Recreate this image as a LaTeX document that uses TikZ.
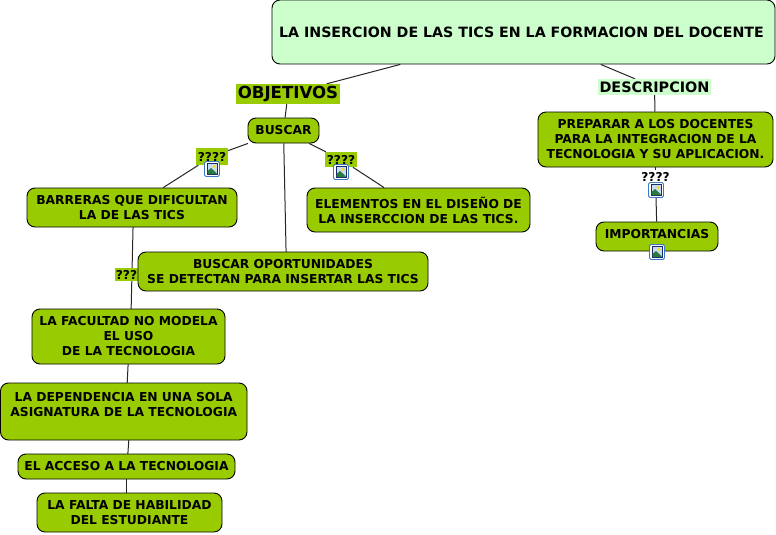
\documentclass[tikz,border=0pt]{standalone}
\usepackage{fontspec}
\setmainfont{DejaVu Sans Bold}
\usetikzlibrary{backgrounds}
\definecolor{leaf}{HTML}{99CC00}
\definecolor{mint}{HTML}{CCFFCC}
\definecolor{iconblue}{HTML}{3C78C8}
\definecolor{iconnavy}{HTML}{1A2A6C}
\definecolor{iconsky}{HTML}{C8DCF5}
\definecolor{icongreen}{HTML}{2A7A40}
\tikzset{
  x=1pt,y=-1pt,
  boxbase/.style={draw=black,line width=0.9pt,rounded corners=8pt,inner sep=0pt,align=center,text=black,font=\fontsize{12.3}{15}\selectfont},
  leafbox/.style={boxbase,fill=leaf},
  titlebox/.style={boxbase,fill=mint,font=\fontsize{14.2}{17}\selectfont},
  taglabel/.style={inner sep=0pt,align=center,text=black},
  link/.style={draw=black!85,line width=1pt},
  pics/photo/.style={code={
    \fill[white,draw=iconblue,line width=0.8pt,rounded corners=1.5pt] (-7.5,-7.5) rectangle (7.5,7.5);
    \fill[iconsky,draw=iconnavy,line width=0.9pt] (-5,-5.5) rectangle (5,5.5);
    \fill[icongreen] (-4.5,5) -- (-4.5,2) -- (-1,-1) -- (4.5,4) -- (4.5,5) -- cycle;
    \fill[yellow!80!orange] (2,-2.5) circle (1.6);
  }}
}
\newcommand{\bx}[7][leafbox]{%
  \node[#1,minimum width=#5pt-#3pt,minimum height=#6pt-#4pt] (#2) at ({(#3+#5)/2},{(#4+#6)/2}) {#7};}
\begin{document}
\begin{tikzpicture}
\useasboundingbox (0,0) rectangle (776,535);
\bx[titlebox]{title}{272}{0}{775}{64}{LA INSERCION DE LAS TICS EN LA FORMACION DEL DOCENTE\hspace*{4pt}}
\bx[taglabel,fill=leaf,font=\fontsize{16.6}{18}\selectfont]{obj}{236}{84}{340}{104}{OBJETIVOS}
\bx[taglabel,fill=mint,font=\fontsize{14.4}{16}\selectfont]{desc}{598}{79}{711}{95}{DESCRIPCION}
\bx{buscar}{248}{118}{319}{143}{BUSCAR}
\bx[taglabel,fill=leaf,font=\fontsize{12.2}{14}\selectfont]{qa}{196}{148}{228}{165}{????}
\bx[taglabel,fill=leaf,font=\fontsize{12.2}{14}\selectfont]{qb}{325}{152}{357}{167}{????}
\bx[taglabel,font=\fontsize{12.2}{14}\selectfont]{qc}{640}{170}{671}{184}{????}
\bx[taglabel,fill=leaf,font=\fontsize{12.2}{14}\selectfont]{qd}{115}{268}{138}{281}{???}
\bx{barreras}{27}{188}{237}{227}{BARRERAS QUE DIFICULTAN\\LA DE LAS TICS}
\bx{elementos}{307}{188}{530}{232}{ELEMENTOS EN EL DISEÑO DE\\LA INSERCCION DE LAS TICS.}
\bx{oport}{138}{252}{428}{291}{BUSCAR OPORTUNIDADES\\SE DETECTAN PARA INSERTAR LAS TICS}
\bx{facultad}{32}{309}{225}{364}{LA FACULTAD NO MODELA\\EL USO\\DE LA TECNOLOGIA}
\bx{depend}{0.5}{383}{247}{440}{LA DEPENDENCIA EN UNA SOLA\\ASIGNATURA DE LA TECNOLOGIA\hspace*{4pt}\\ \phantom{X}}
\bx{acceso}{18}{454}{235}{479}{EL ACCESO A LA TECNOLOGIA}
\bx{falta}{37}{493}{222}{532}{LA FALTA DE HABILIDAD\\DEL ESTUDIANTE}
\bx{preparar}{538}{112}{773}{167}{PREPARAR A LOS DOCENTES\\PARA LA INTEGRACION DE LA\\TECNOLOGIA Y SU APLICACION.}
\bx{import}{596}{222}{718}{251}{IMPORTANCIAS\\[-10pt] \phantom{X}}
\pic at (212,169) {photo};
\pic at (341,172) {photo};
\pic at (656,190) {photo};
\pic at (657,252) {photo};
\begin{scope}[on background layer]
\fill[white] (0,0) rectangle (776,535);
\draw[link] (title) -- (obj);
\draw[link] (title) -- (desc);
\draw[link] (obj) -- (buscar);
\draw[link] (buscar) -- (qa);
\draw[link] (qa) -- (barreras);
\draw[link] (buscar) -- (qb);
\draw[link] (qb) -- (elementos);
\draw[link] (buscar) -- ([xshift=3.5pt]oport.center);
\draw[link] (desc) -- (preparar);
\draw[link] (preparar) -- (qc);
\draw[link] (qc) -- (import);
\draw[link] ([xshift=1.5pt]barreras.center) -- ([xshift=2pt]facultad.center);
\draw[link] ([xshift=1pt]facultad.center) -- ([xshift=2pt]depend.center);
\draw[link] ([xshift=7pt]depend.center) -- ([xshift=0.5pt]acceso.center);
\draw[link] (acceso) -- ([xshift=-3pt]falta.center);
\end{scope}
\end{tikzpicture}
\end{document}
